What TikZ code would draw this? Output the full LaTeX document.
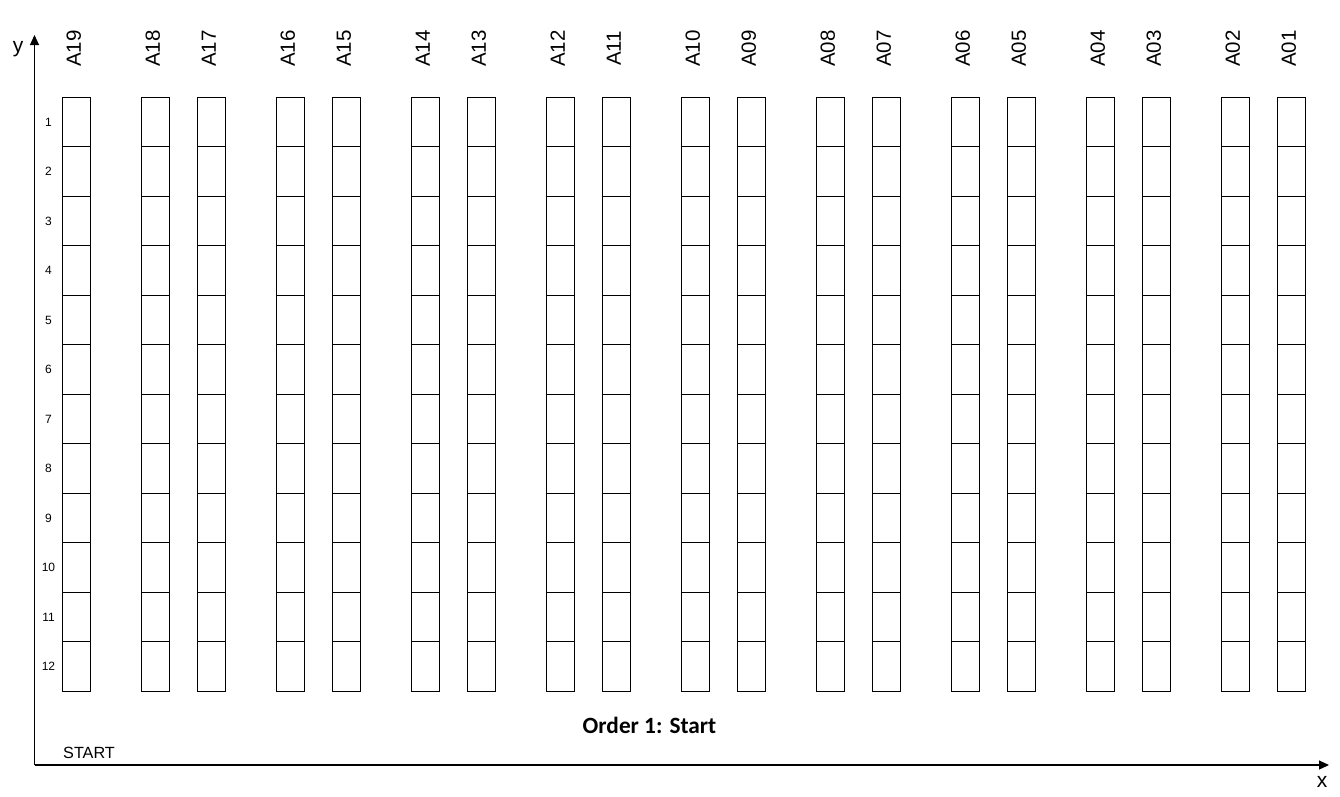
\documentclass[tikz,border=0pt]{standalone}
\usepackage{fontspec}
\setmainfont{Liberation Sans}
\newfontfamily\titlefont{Carlito}
\usetikzlibrary{arrows.meta}
\begin{document}
\begin{tikzpicture}[x=1pt,y=-1pt,
  cell/.style={draw, line width=1.1pt, minimum width=28pt, minimum height=49.5pt, inner sep=0pt, outer sep=0pt, anchor=north west},
  collabel/.style={rotate=90, inner sep=0pt, font=\fontsize{20.5}{24}\selectfont},
  rowlabel/.style={inner sep=0pt, font=\fontsize{12}{14}\selectfont},
  axislabel/.style={inner sep=0pt, font=\fontsize{21}{24}\selectfont},
  axis/.style={line width=1.1pt, -{Triangle[length=10pt,width=9pt]}}]
\useasboundingbox (0,0) rectangle (1340,796);
\foreach \n/\xl in {A19/62.3, A18/141.3, A17/197.3, A16/276.3, A15/332.3, A14/411.3, A13/467.3, A12/546.3, A11/602.3, A10/681.3, A09/737.3, A08/816.3, A07/872.3, A06/951.3, A05/1007.3, A04/1086.3, A03/1142.3, A02/1221.3, A01/1277.3} {
  \foreach \r in {1,...,12} {
    \node[cell] (\n-\r) at (\xl, {97.3+(\r-1)*49.5}) {};
  }
  \node[collabel] (lab-\n) at ({\xl+11.5}, 48.5) {\n};
}
\foreach \r in {1,...,12} {
  \node[rowlabel] (row-\r) at (48.5, {97.3+(\r-0.5)*49.5}) {\r};
}
\coordinate (o) at (34.5,765);
\coordinate (ytip) at (34.5,35);
\coordinate (xtip) at (1329,765);
\draw[axis] (o) -- (ytip);
\draw[axis] (o) -- (xtip);
\node[axislabel] (ylab) at (18,49) {y};
\node[axislabel] (xlab) at (1322,782) {x};
\node[anchor=west, inner sep=0pt, font=\fontsize{16.2}{19}\selectfont] (start) at (63,752.5) {START};
\node[inner sep=0pt, font=\titlefont\bfseries\fontsize{23.3}{27}\selectfont] (title) at (649.5,725) {Order 1: Start};
\end{tikzpicture}
\end{document}
